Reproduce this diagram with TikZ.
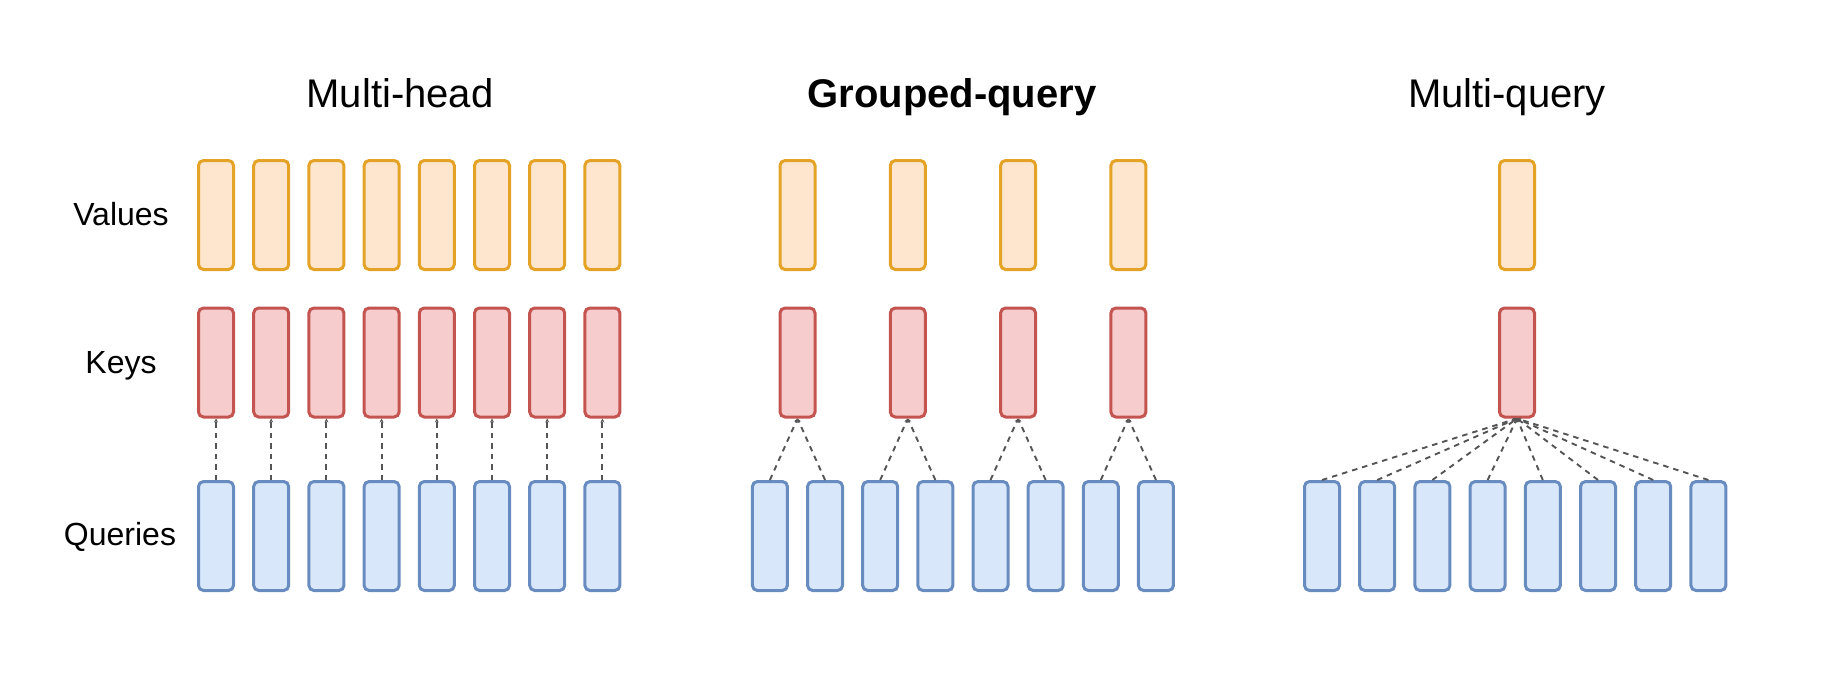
\documentclass[tikz,border=0pt]{standalone}
\usepackage{fontspec}
\setmainfont{Liberation Sans}
\usetikzlibrary{arrows.meta}
\definecolor{vfill}{RGB}{253,230,205}
\definecolor{vdraw}{RGB}{228,162,38}
\definecolor{kfill}{RGB}{246,204,204}
\definecolor{kdraw}{RGB}{196,84,80}
\definecolor{qfill}{RGB}{216,231,250}
\definecolor{qdraw}{RGB}{104,140,192}
\definecolor{conncol}{RGB}{85,85,85}
\tikzset{
  vec/.style={rectangle, rounded corners=5pt, line width=3pt, minimum width=35pt, minimum height=109pt, inner sep=0pt},
  vbox/.style={vec, draw=vdraw, fill=vfill},
  kbox/.style={vec, draw=kdraw, fill=kfill},
  qbox/.style={vec, draw=qdraw, fill=qfill},
  conn/.style={draw=conncol, line width=1.9pt, dash pattern=on 5.5pt off 5pt, -{Stealth[length=4pt,width=4pt]}},
  rowlabel/.style={anchor=base, inner sep=0pt, font=\fontsize{32}{38}\selectfont},
  title/.style={anchor=base, inner sep=0pt, font=\fontsize{40}{48}\selectfont},
}
\begin{document}
\begin{tikzpicture}[x=1pt,y=-1pt]
\useasboundingbox (0,0) rectangle (1830,680);
% titles
\node[title] (t1) at (400,107) {Multi-head};
\node[title, font=\fontsize{40}{48}\selectfont\bfseries] (t2) at (952,107) {Grouped-query};
\node[title] (t3) at (1507,107) {Multi-query};
% row labels
\node[rowlabel] (lv) at (121,225) {Values};
\node[rowlabel] (lk) at (121,373) {Keys};
\node[rowlabel] (lq) at (120,545) {Queries};
% Multi-head
\foreach \i in {0,...,7} {
  \pgfmathsetmacro{\xx}{216+55.2*\i}
  \node[vbox] (mhv\i) at (\xx,215) {};
  \node[kbox] (mhk\i) at (\xx,362.5) {};
  \node[qbox] (mhq\i) at (\xx,536) {};
  \draw[conn] (mhq\i.north) -- (mhk\i.south);
}
% Grouped-query
\foreach \g in {0,...,3} {
  \pgfmathsetmacro{\gx}{797.5+110.3*\g}
  \node[vbox] (gqv\g) at (\gx,215) {};
  \node[kbox] (gqk\g) at (\gx,362.5) {};
}
\foreach \i in {0,...,7} {
  \pgfmathsetmacro{\xx}{769.9+55.15*\i}
  \pgfmathtruncatemacro{\gg}{int(\i/2)}
  \node[qbox] (gqq\i) at (\xx,536) {};
  \draw[conn] (gqq\i.north) -- (gqk\gg.south);
}
% Multi-query
\node[vbox] (mqv) at (1517,215) {};
\node[kbox] (mqk) at (1517,362.5) {};
\foreach \i in {0,...,7} {
  \pgfmathsetmacro{\xx}{1322+55.2*\i}
  \node[qbox] (mqq\i) at (\xx,536) {};
  \draw[conn] (mqq\i.north) -- (mqk.south);
}
\end{tikzpicture}
\end{document}
